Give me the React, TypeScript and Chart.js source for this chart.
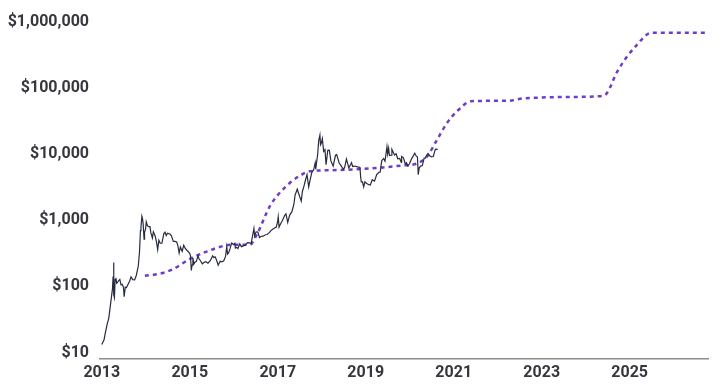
import React, { useEffect, useRef } from "react";
import { Chart, registerables } from "chart.js";

Chart.register(...registerables);

// Bitcoin price (USD), observed
const btcDates: string[] = [
  "2013-01-01","2013-01-20","2013-02-01","2013-02-15","2013-02-28","2013-03-10","2013-03-20","2013-03-31","2013-04-05","2013-04-09",
  "2013-04-12","2013-04-16","2013-04-22","2013-04-28","2013-05-05","2013-05-12","2013-05-20","2013-05-31","2013-06-10","2013-06-20",
  "2013-06-30","2013-07-06","2013-07-15","2013-07-25","2013-08-05","2013-08-20","2013-09-01","2013-09-15","2013-10-01","2013-10-15",
  "2013-10-31","2013-11-10","2013-11-18","2013-11-22","2013-11-30","2013-12-05","2013-12-10","2013-12-18","2013-12-22","2013-12-31",
  "2014-01-05","2014-01-15","2014-01-25","2014-02-05","2014-02-12","2014-02-25","2014-03-05","2014-03-20","2014-04-01","2014-04-10",
  "2014-04-20","2014-05-01","2014-05-15","2014-05-31","2014-06-10","2014-06-20","2014-07-01","2014-07-20","2014-08-01","2014-08-18",
  "2014-09-01","2014-09-15","2014-09-25","2014-10-05","2014-10-15","2014-10-30","2014-11-12","2014-11-25","2014-12-10","2014-12-31",
  "2015-01-07","2015-01-14","2015-01-20","2015-01-27","2015-02-05","2015-02-15","2015-02-25","2015-03-10","2015-03-20","2015-03-31",
  "2015-04-15","2015-05-01","2015-05-15","2015-06-01","2015-06-20","2015-07-10","2015-07-20","2015-08-01","2015-08-18","2015-08-25",
  "2015-09-10","2015-09-25","2015-10-10","2015-10-25","2015-11-04","2015-11-11","2015-11-20","2015-12-01","2015-12-15","2015-12-31",
  "2016-01-10","2016-01-15","2016-01-25","2016-02-05","2016-02-20","2016-03-05","2016-03-20","2016-04-05","2016-04-25","2016-05-10",
  "2016-05-25","2016-06-05","2016-06-17","2016-06-23","2016-07-05","2016-07-20","2016-08-02","2016-08-15","2016-09-01","2016-09-20",
  "2016-10-05","2016-10-25","2016-11-05","2016-11-20","2016-12-05","2016-12-20","2016-12-31",
  "2017-01-05","2017-01-12","2017-01-25","2017-02-10","2017-02-28","2017-03-10","2017-03-25","2017-04-10","2017-04-28","2017-05-15",
  "2017-05-25","2017-06-01","2017-06-12","2017-06-25","2017-07-15","2017-07-25","2017-08-05","2017-08-20","2017-09-01","2017-09-15",
  "2017-09-28","2017-10-12","2017-10-25","2017-11-08","2017-11-12","2017-11-28","2017-12-07","2017-12-17","2017-12-22","2017-12-28",
  "2018-01-06","2018-01-17","2018-01-28","2018-02-06","2018-02-20","2018-03-05","2018-03-18","2018-04-01","2018-04-06","2018-04-25",
  "2018-05-05","2018-05-25","2018-06-10","2018-06-29","2018-07-10","2018-07-25","2018-08-14","2018-08-30","2018-09-05","2018-09-15",
  "2018-10-01","2018-10-25","2018-11-14","2018-11-20","2018-11-25","2018-12-05","2018-12-15","2018-12-25",
  "2019-01-10","2019-01-28","2019-02-08","2019-02-24","2019-03-15","2019-04-02","2019-04-20","2019-05-01","2019-05-14","2019-05-30",
  "2019-06-10","2019-06-26","2019-07-02","2019-07-10","2019-07-17","2019-07-30","2019-08-06","2019-08-28","2019-09-10","2019-09-24",
  "2019-10-10","2019-10-23","2019-10-26","2019-11-10","2019-11-25","2019-12-05","2019-12-17","2019-12-31",
  "2020-01-10","2020-01-20","2020-02-12","2020-02-25","2020-03-05","2020-03-12","2020-03-20","2020-04-01","2020-04-15","2020-04-30",
  "2020-05-10","2020-05-20","2020-06-01","2020-06-15","2020-07-01","2020-07-15","2020-07-27","2020-08-01","2020-08-10","2020-08-20",
];
const btcPrices: number[] = [
  13.3,15.7,20.4,27,33,46,64,93,142,230,
  75,68,127,135,112,115,122,128,106,108,
  97,70,98,96,106,120,140,127,126,148,
  204,330,700,780,1150,1060,900,520,660,750,
  950,830,800,800,650,540,670,580,460,360,
  500,450,450,630,660,590,640,620,590,480,
  480,470,410,320,395,340,420,375,350,320,
  290,175,210,270,220,235,240,290,260,245,
  220,232,237,225,245,290,275,280,230,210,
  240,235,245,285,400,310,325,370,455,430,
  450,380,390,375,440,400,410,420,460,455,
  450,575,750,580,670,665,550,570,575,605,
  610,655,700,735,765,790,960,
  1130,790,890,1000,1190,1250,930,1200,1340,1750,
  2400,2400,2950,2500,1950,2750,3200,4100,4900,3200,
  4200,5400,5700,7400,5900,9800,16000,19400,13800,14500,
  17100,11000,11700,6900,11400,11500,7900,6900,6600,9600,
  9800,7400,6700,5900,6300,8400,6200,7000,7400,6500,
  6600,6400,6300,4500,3800,3800,3200,3800,
  3600,3450,3400,4100,3900,4900,5300,5350,8000,8600,
  7800,12900,10000,12300,9500,9600,11800,9700,10100,8500,
  8600,7500,9200,8800,7100,7400,6600,7200,
  8000,8700,10300,9300,9100,4900,6200,6600,6700,8700,
  8700,9500,10200,9400,9100,9200,11000,11800,11900,11700,
];

// Model projection (USD), dotted line
const modelYears: number[] = [
  2013.98, 2014.3, 2014.6, 2015.0, 2015.4, 2015.8, 2016.0, 2016.37, 2016.52, 2016.82,
  2017.0, 2017.28, 2017.5, 2017.73, 2018.2, 2018.8, 2019.4, 2019.8, 2020.16, 2020.39,
  2020.61, 2020.84, 2021.1, 2021.4, 2022.25, 2022.55, 2022.86, 2023.6, 2024.33, 2024.48,
  2024.72, 2025.18, 2025.49, 2026.86,
];
const modelValues: number[] = [
  145, 155, 180, 260, 340, 415, 428, 430, 600, 1630,
  2400, 3700, 4700, 5500, 5700, 5900, 6300, 6700, 7200, 9100,
  16000, 29000, 46000, 63000, 64000, 69000, 71000, 73000, 75000, 83000,
  178000, 460000, 680000, 680000,
];

const yTicks: number[] = [10, 100, 1000, 10000, 100000, 1000000];
const xTicks: number[] = [2013, 2015, 2017, 2019, 2021, 2023, 2025];

function toYear(d: string): number {
  const [y, m, day] = d.split("-").map(Number);
  const start = Date.UTC(y, 0, 1);
  const end = Date.UTC(y + 1, 0, 1);
  return y + (Date.UTC(y, m - 1, day) - start) / (end - start);
}

export default function App() {
  const ref = useRef<HTMLCanvasElement | null>(null);

  useEffect(() => {
    if (!ref.current) return;
    const textColor = "#36363f";
    const font = { family: "Roboto", size: 16, weight: "bold" as const };
    const chart = new Chart(ref.current, {
      type: "line",
      data: {
        datasets: [
          {
            label: "Price",
            data: btcDates.map((d, i) => ({ x: toYear(d), y: btcPrices[i] })),
            borderColor: "#262b40",
            borderWidth: 1.2,
            pointRadius: 0,
            tension: 0,
            fill: false,
          },
          {
            label: "Model",
            data: modelYears.map((x, i) => ({ x, y: modelValues[i] })),
            borderColor: "#6f3cc8",
            borderWidth: 2.5,
            borderDash: [4, 4],
            pointRadius: 0,
            cubicInterpolationMode: "monotone",
            fill: false,
          },
        ],
      },
      options: {
        animation: false,
        responsive: true,
        maintainAspectRatio: false,
        layout: { padding: { top: 21.7, right: 18, left: 0, bottom: 0 } },
        plugins: { legend: { display: false }, tooltip: { enabled: false } },
        scales: {
          x: {
            type: "linear",
            min: 2012.96,
            max: 2026.78,
            grid: { display: false, drawTicks: false },
            border: { display: true, color: "#8c8c8c", width: 1.5 },
            afterBuildTicks: (scale: any) => {
              scale.ticks = xTicks.map((value) => ({ value }));
            },
            afterFit: (scale: any) => {
              scale.height = 25.7;
            },
            ticks: {
              color: textColor,
              font,
              padding: 5,
              maxRotation: 0,
              autoSkip: false,
              callback: (v: any) => String(v),
            },
          },
          y: {
            type: "logarithmic",
            min: 8.23,
            max: 1000000,
            grid: { display: false, drawTicks: false },
            border: { display: false },
            afterBuildTicks: (scale: any) => {
              scale.ticks = yTicks.map((value) => ({ value }));
            },
            afterFit: (scale: any) => {
              scale.width = 100;
            },
            ticks: {
              color: textColor,
              font,
              padding: 11,
              autoSkip: false,
              callback: (v: any) => "$" + Number(v).toLocaleString("en-US"),
            },
          },
        },
      },
    });
    return () => chart.destroy();
  }, []);

  return (
    <div style={{ position: "fixed", left: 0, top: 0, width: 726, height: 384, background: "#fff" }}>
      <canvas ref={ref} />
    </div>
  );
}
